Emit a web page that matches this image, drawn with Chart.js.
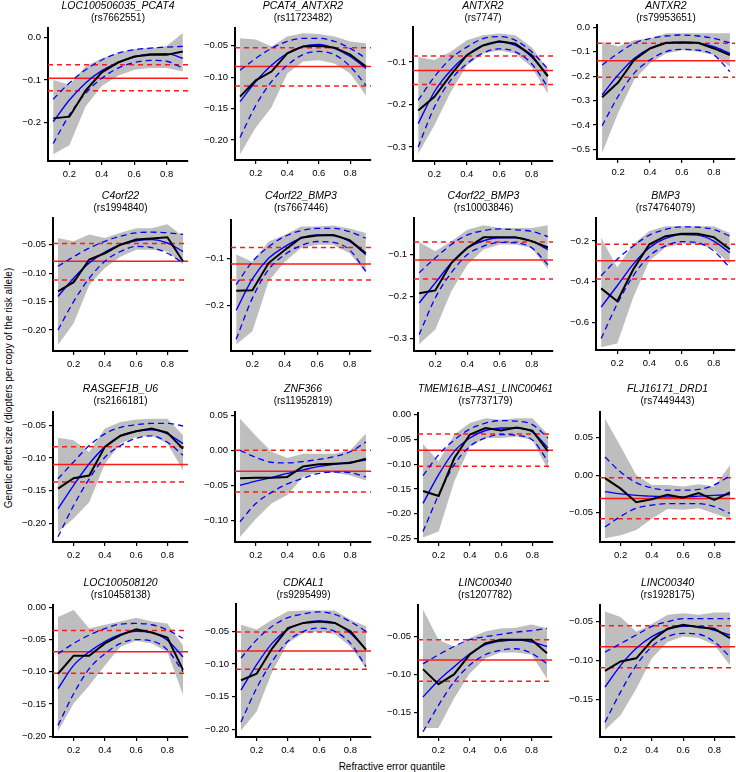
<!DOCTYPE html>
<html>
<head>
<meta charset="utf-8">
<script src="https://cdn.jsdelivr.net/npm/chart.js@4"></script>
<style>
  body { margin: 0; background: #fff; width: 736px; height: 772px; position: relative; overflow: hidden;
         font-family: "Liberation Sans", Arial, sans-serif; }
  canvas { position: absolute; }
  .lab { position: absolute; font-size: 10px; color: #000; white-space: nowrap; }
  #ylab { left: 8px; top: 388px; transform: translate(-50%, -50%) rotate(-90deg); }
  #xlab { left: 392px; top: 766px; transform: translate(-50%, -50%); }
</style>
</head>
<body>
<div class="lab" id="ylab">Genetic effect size (diopters per copy of the risk allele)</div>
<div class="lab" id="xlab">Refractive error quantile</div>
<script>
// data
const quantiles = [0.1, 0.2, 0.3, 0.4, 0.5, 0.6, 0.7, 0.8, 0.9];

const genes = ["LOC100506035_PCAT4", "PCAT4_ANTXR2", "ANTXR2", "ANTXR2",
  "C4orf22", "C4orf22_BMP3", "C4orf22_BMP3", "BMP3",
  "RASGEF1B_U6", "ZNF366", "TMEM161B\u2013AS1_LINC00461", "FLJ16171_DRD1",
  "LOC100508120", "CDKAL1", "LINC00340", "LINC00340"];
const rsids = ["(rs7662551)", "(rs11723482)", "(rs7747)", "(rs79953651)",
  "(rs1994840)", "(rs7667446)", "(rs10003846)", "(rs74764079)",
  "(rs2166181)", "(rs11952819)", "(rs7737179)", "(rs7449443)",
  "(rs10458138)", "(rs9295499)", "(rs1207782)", "(rs1928175)"];

// black line: effect per quantile
const observed = [
  [-0.190, -0.186, -0.125, -0.082, -0.059, -0.045, -0.041, -0.041, -0.033],
  [-0.131, -0.105, -0.091, -0.062, -0.051, -0.050, -0.053, -0.064, -0.083],
  [-0.214, -0.182, -0.131, -0.084, -0.061, -0.051, -0.057, -0.084, -0.134],
  [-0.286, -0.226, -0.133, -0.086, -0.063, -0.063, -0.063, -0.086, -0.113],
  [-0.132, -0.116, -0.076, -0.065, -0.050, -0.041, -0.039, -0.037, -0.079],
  [-0.168, -0.167, -0.109, -0.081, -0.055, -0.050, -0.049, -0.060, -0.088],
  [-0.192, -0.185, -0.120, -0.084, -0.059, -0.059, -0.059, -0.068, -0.083],
  [-0.432, -0.495, -0.338, -0.216, -0.176, -0.164, -0.164, -0.181, -0.240],
  [-0.147, -0.131, -0.127, -0.083, -0.066, -0.059, -0.055, -0.061, -0.086],
  [-0.040, -0.039, -0.039, -0.038, -0.023, -0.020, -0.019, -0.018, -0.012],
  [-0.154, -0.164, -0.088, -0.040, -0.027, -0.032, -0.026, -0.032, -0.074],
  [-0.004, -0.018, -0.036, -0.032, -0.026, -0.030, -0.024, -0.033, -0.023],
  [-0.103, -0.075, -0.075, -0.056, -0.043, -0.034, -0.039, -0.047, -0.097],
  [-0.125, -0.115, -0.076, -0.045, -0.037, -0.035, -0.037, -0.050, -0.078],
  [-0.093, -0.113, -0.100, -0.074, -0.059, -0.054, -0.054, -0.054, -0.072],
  [-0.113, -0.101, -0.097, -0.074, -0.059, -0.054, -0.057, -0.059, -0.071]
];
// grey band
const bandHigh = [
  [-0.100, -0.111, -0.068, -0.049, -0.037, -0.027, -0.025, -0.020, 0.010],
  [-0.038, -0.040, -0.051, -0.035, -0.030, -0.031, -0.035, -0.043, -0.046],
  [-0.088, -0.095, -0.076, -0.049, -0.037, -0.033, -0.037, -0.065, -0.116],
  [-0.059, -0.078, -0.052, -0.045, -0.024, -0.024, -0.024, -0.024, -0.024],
  [-0.038, -0.044, -0.032, -0.038, -0.029, -0.021, -0.021, -0.014, -0.035],
  [-0.091, -0.106, -0.063, -0.049, -0.031, -0.031, -0.029, -0.035, -0.045],
  [-0.070, -0.092, -0.068, -0.041, -0.030, -0.037, -0.037, -0.037, -0.030],
  [-0.184, -0.330, -0.216, -0.151, -0.127, -0.127, -0.127, -0.127, -0.160],
  [-0.069, -0.073, -0.091, -0.055, -0.045, -0.041, -0.040, -0.040, -0.065],
  [0.045, 0.021, -0.002, -0.011, -0.005, -0.005, -0.005, 0.000, 0.024],
  [-0.059, -0.094, -0.040, -0.017, -0.007, -0.010, -0.007, -0.007, -0.040],
  [0.075, 0.038, 0.000, -0.013, -0.013, -0.015, -0.012, -0.015, 0.013],
  [-0.015, -0.004, -0.033, -0.027, -0.022, -0.016, -0.022, -0.025, -0.059],
  [-0.040, -0.047, -0.032, -0.019, -0.018, -0.018, -0.018, -0.032, -0.042],
  [-0.014, -0.054, -0.063, -0.052, -0.043, -0.039, -0.038, -0.034, -0.039],
  [-0.037, -0.044, -0.063, -0.053, -0.041, -0.039, -0.041, -0.038, -0.038]
];
const bandLow = [
  [-0.274, -0.253, -0.162, -0.114, -0.090, -0.076, -0.072, -0.072, -0.080],
  [-0.223, -0.180, -0.148, -0.094, -0.075, -0.073, -0.078, -0.094, -0.129],
  [-0.316, -0.249, -0.171, -0.108, -0.080, -0.073, -0.080, -0.112, -0.175],
  [-0.514, -0.351, -0.215, -0.147, -0.107, -0.093, -0.099, -0.113, -0.161],
  [-0.226, -0.188, -0.121, -0.091, -0.071, -0.059, -0.059, -0.062, -0.085],
  [-0.283, -0.255, -0.148, -0.106, -0.077, -0.070, -0.070, -0.088, -0.130],
  [-0.313, -0.278, -0.187, -0.124, -0.088, -0.076, -0.076, -0.084, -0.135],
  [-0.720, -0.702, -0.475, -0.297, -0.232, -0.213, -0.216, -0.240, -0.313],
  [-0.214, -0.193, -0.168, -0.109, -0.078, -0.068, -0.066, -0.078, -0.119],
  [-0.124, -0.098, -0.076, -0.064, -0.038, -0.031, -0.032, -0.036, -0.043],
  [-0.248, -0.236, -0.135, -0.064, -0.047, -0.047, -0.044, -0.051, -0.111],
  [-0.084, -0.080, -0.073, -0.058, -0.045, -0.046, -0.044, -0.051, -0.058],
  [-0.192, -0.149, -0.121, -0.090, -0.061, -0.052, -0.056, -0.069, -0.136],
  [-0.202, -0.173, -0.112, -0.068, -0.053, -0.050, -0.054, -0.073, -0.107],
  [-0.171, -0.171, -0.132, -0.099, -0.079, -0.071, -0.071, -0.074, -0.106],
  [-0.189, -0.170, -0.136, -0.097, -0.076, -0.069, -0.071, -0.080, -0.106]
];
// blue fitted curve and its dashed limits
const fitMid = [
  [-0.198, -0.147, -0.107, -0.078, -0.059, -0.046, -0.039, -0.038, -0.049],
  [-0.139, -0.107, -0.081, -0.062, -0.051, -0.048, -0.054, -0.067, -0.086],
  [-0.245, -0.170, -0.120, -0.084, -0.061, -0.053, -0.061, -0.088, -0.131],
  [-0.276, -0.195, -0.127, -0.086, -0.065, -0.059, -0.063, -0.079, -0.106],
  [-0.141, -0.109, -0.082, -0.063, -0.050, -0.043, -0.041, -0.047, -0.062],
  [-0.210, -0.143, -0.099, -0.074, -0.056, -0.049, -0.050, -0.063, -0.091],
  [-0.215, -0.167, -0.120, -0.084, -0.067, -0.060, -0.060, -0.068, -0.088],
  [-0.524, -0.419, -0.313, -0.232, -0.187, -0.168, -0.171, -0.200, -0.257],
  [-0.178, -0.142, -0.109, -0.083, -0.066, -0.059, -0.057, -0.063, -0.078],
  [-0.050, -0.044, -0.039, -0.033, -0.028, -0.023, -0.020, -0.017, -0.014],
  [-0.179, -0.121, -0.074, -0.047, -0.032, -0.027, -0.027, -0.035, -0.067],
  [-0.022, -0.025, -0.027, -0.028, -0.029, -0.029, -0.028, -0.027, -0.026],
  [-0.126, -0.090, -0.069, -0.053, -0.042, -0.037, -0.039, -0.051, -0.077],
  [-0.140, -0.101, -0.068, -0.047, -0.037, -0.034, -0.037, -0.053, -0.078],
  [-0.130, -0.108, -0.090, -0.073, -0.061, -0.056, -0.054, -0.057, -0.063],
  [-0.134, -0.106, -0.084, -0.069, -0.060, -0.056, -0.056, -0.061, -0.067]
];
const fitHigh = [
  [-0.145, -0.107, -0.076, -0.053, -0.037, -0.029, -0.025, -0.023, -0.021],
  [-0.089, -0.070, -0.054, -0.043, -0.038, -0.038, -0.043, -0.054, -0.070],
  [-0.190, -0.135, -0.092, -0.065, -0.045, -0.040, -0.049, -0.076, -0.116],
  [-0.154, -0.106, -0.065, -0.045, -0.035, -0.031, -0.035, -0.045, -0.063],
  [-0.088, -0.071, -0.056, -0.044, -0.035, -0.029, -0.028, -0.029, -0.032],
  [-0.155, -0.106, -0.074, -0.052, -0.040, -0.035, -0.035, -0.042, -0.056],
  [-0.143, -0.108, -0.076, -0.053, -0.043, -0.039, -0.041, -0.045, -0.057],
  [-0.370, -0.289, -0.224, -0.171, -0.143, -0.130, -0.132, -0.143, -0.176],
  [-0.132, -0.106, -0.081, -0.063, -0.053, -0.049, -0.047, -0.047, -0.051],
  [0.000, -0.010, -0.017, -0.018, -0.016, -0.013, -0.009, -0.002, 0.012],
  [-0.123, -0.081, -0.051, -0.029, -0.017, -0.012, -0.013, -0.020, -0.047],
  [0.024, 0.004, -0.010, -0.017, -0.020, -0.020, -0.019, -0.013, -0.001],
  [-0.072, -0.056, -0.043, -0.033, -0.026, -0.025, -0.027, -0.035, -0.048],
  [-0.091, -0.063, -0.042, -0.029, -0.023, -0.020, -0.024, -0.035, -0.050],
  [-0.086, -0.074, -0.063, -0.054, -0.050, -0.047, -0.044, -0.042, -0.039],
  [-0.089, -0.078, -0.067, -0.056, -0.050, -0.046, -0.046, -0.046, -0.046]
];
const fitLow = [
  [-0.249, -0.182, -0.131, -0.096, -0.072, -0.059, -0.054, -0.056, -0.072],
  [-0.196, -0.145, -0.107, -0.081, -0.064, -0.059, -0.064, -0.083, -0.113],
  [-0.300, -0.206, -0.143, -0.104, -0.079, -0.069, -0.076, -0.104, -0.159],
  [-0.403, -0.283, -0.188, -0.133, -0.099, -0.090, -0.093, -0.113, -0.181],
  [-0.200, -0.150, -0.109, -0.079, -0.062, -0.053, -0.055, -0.065, -0.082],
  [-0.272, -0.184, -0.123, -0.091, -0.072, -0.063, -0.065, -0.081, -0.127],
  [-0.290, -0.203, -0.143, -0.100, -0.080, -0.071, -0.072, -0.084, -0.124],
  [-0.678, -0.508, -0.370, -0.273, -0.224, -0.203, -0.208, -0.249, -0.330],
  [-0.221, -0.173, -0.132, -0.099, -0.081, -0.070, -0.066, -0.076, -0.096],
  [-0.102, -0.076, -0.060, -0.048, -0.040, -0.033, -0.031, -0.032, -0.038],
  [-0.236, -0.162, -0.101, -0.064, -0.047, -0.040, -0.042, -0.051, -0.094],
  [-0.069, -0.055, -0.044, -0.040, -0.038, -0.038, -0.038, -0.042, -0.051],
  [-0.183, -0.134, -0.095, -0.072, -0.056, -0.050, -0.052, -0.066, -0.100],
  [-0.189, -0.137, -0.096, -0.065, -0.050, -0.045, -0.050, -0.068, -0.104],
  [-0.176, -0.141, -0.110, -0.088, -0.074, -0.068, -0.066, -0.072, -0.086],
  [-0.179, -0.140, -0.106, -0.082, -0.069, -0.065, -0.066, -0.076, -0.095]
];
// red lines: overall effect and its limits
const meanEffect = [-0.096, -0.083, -0.120, -0.136, -0.079, -0.111, -0.113, -0.297,
  -0.110, -0.030, -0.072, -0.031, -0.069, -0.080, -0.081, -0.082];
const meanHigh = [-0.064, -0.053, -0.086, -0.065, -0.048, -0.076, -0.070, -0.216,
  -0.083, 0.000, -0.039, -0.0035, -0.036, -0.051, -0.054, -0.055];
const meanLow = [-0.125, -0.114, -0.153, -0.204, -0.112, -0.145, -0.158, -0.386,
  -0.137, -0.0595, -0.104, -0.058, -0.102, -0.108, -0.109, -0.109];

// axes
const xTicks = [0.2, 0.4, 0.6, 0.8];
const X_MIN = 0.068, X_MAX = 0.932;
const yTickLabels = [
  ["0.0", "\u22120.1", "\u22120.2"],
  ["\u22120.05", "\u22120.10", "\u22120.15", "\u22120.20"],
  ["\u22120.1", "\u22120.2", "\u22120.3"],
  ["0.0", "\u22120.1", "\u22120.2", "\u22120.3", "\u22120.4", "\u22120.5"],
  ["\u22120.05", "\u22120.10", "\u22120.15", "\u22120.20"],
  ["\u22120.1", "\u22120.2"],
  ["\u22120.1", "\u22120.2", "\u22120.3"],
  ["\u22120.2", "\u22120.4", "\u22120.6"],
  ["\u22120.05", "\u22120.10", "\u22120.15", "\u22120.20"],
  ["0.05", "0.00", "\u22120.05", "\u22120.10"],
  ["0.00", "\u22120.05", "\u22120.10", "\u22120.15", "\u22120.20", "\u22120.25"],
  ["0.05", "0.00", "\u22120.05"],
  ["0.00", "\u22120.05", "\u22120.10", "\u22120.15", "\u22120.20"],
  ["\u22120.05", "\u22120.10", "\u22120.15", "\u22120.20"],
  ["\u22120.05", "\u22120.10", "\u22120.15"],
  ["\u22120.05", "\u22120.10", "\u22120.15"]
];
const yMin = [-0.290, -0.232, -0.333, -0.539, -0.237, -0.297, -0.329, -0.734,
  -0.229, -0.131, -0.257, -0.089, -0.201, -0.212, -0.183, -0.198];
const yMax = [0.022, -0.0216, -0.0176, 0.010, -0.003, -0.017, -0.013, -0.087,
  -0.0295, 0.0548, 0.0034, 0.084, 0.0036, -0.008, -0.008, -0.0285];

// plot areas on the page: left, top, right, bottom
const boxes = [
  [48, 28, 188, 161], [235, 28, 371, 160], [413, 27, 553, 161], [597, 25, 735, 159],
  [53, 218, 188, 351], [231, 220, 371, 351], [414, 218, 553, 351], [596, 218, 735, 350],
  [53, 412, 188, 542], [235, 412, 371, 542], [418, 413, 553, 542], [600, 412, 735, 542],
  [53, 605, 188, 737], [236, 604, 371, 737], [418, 605, 552, 737], [600, 605, 735, 737]
];
// top of the two title lines for each row of panels
const rowTop = [0, 190, 383, 577];
const AXIS_W = 45, LINE_H = 12, XAXIS_H = 20, PAD_R = 4;

Chart.defaults.font.family = '"Liberation Sans", Arial, sans-serif';
Chart.defaults.color = "#000";

const pts = arr => quantiles.map((q, k) => ({ x: q, y: arr[k] }));
const across = v => [{ x: X_MIN, y: v }, { x: X_MAX, y: v }];
const minus = s => parseFloat(s.replace("\u2212", "-"));

genes.forEach((gene, i) => {
  const [L, T, R, B] = boxes[i];
  const top = rowTop[Math.floor(i / 4)];
  const gap = T - top - 2 * LINE_H;
  const cv = document.createElement("canvas");
  cv.width = AXIS_W + (R - L) + PAD_R;
  cv.height = (B - top) + XAXIS_H;
  cv.style.left = (L - AXIS_W) + "px";
  cv.style.top = top + "px";
  document.body.appendChild(cv);

  const yVals = yTickLabels[i].map(minus);
  const line = (data, color, width, dash, order, extra) => Object.assign({
    data, borderColor: color, borderWidth: width, borderDash: dash,
    pointRadius: 0, fill: false, order, tension: 0
  }, extra || {});
  const smooth = { cubicInterpolationMode: "monotone" };

  new Chart(cv, {
    type: "line",
    data: {
      datasets: [
        line(pts(bandHigh[i]), "rgba(0,0,0,0)", 0, [], 5, { fill: "+1", backgroundColor: "#bebebe" }),
        line(pts(bandLow[i]), "rgba(0,0,0,0)", 0, [], 5),
        line(across(meanEffect[i]), "#ff1a1a", 1.5, [], 4),
        line(across(meanHigh[i]), "#ff1a1a", 1.5, [5, 4], 4),
        line(across(meanLow[i]), "#ff1a1a", 1.5, [5, 4], 4),
        line(pts(fitHigh[i]), "#0000ff", 1.3, [6, 4], 3, smooth),
        line(pts(fitLow[i]), "#0000ff", 1.3, [6, 4], 3, smooth),
        line(pts(fitMid[i]), "#0000ff", 1.4, [], 2, smooth),
        line(pts(observed[i]), "#000000", 2, [], 1)
      ]
    },
    options: {
      responsive: false,
      animation: false,
      devicePixelRatio: 1,
      events: [],
      layout: { padding: { left: 0, right: PAD_R, top: 0, bottom: 0 } },
      plugins: {
        legend: { display: false },
        tooltip: { enabled: false },
        title: {
          display: true, text: gene, fullSize: false,
          font: { size: 10.5, style: "italic", weight: "normal", lineHeight: LINE_H + "px" },
          padding: { top: 0, bottom: 0 }
        },
        subtitle: {
          display: true, text: rsids[i], fullSize: false,
          font: { size: 10, lineHeight: LINE_H + "px" },
          padding: { top: 0, bottom: gap }
        }
      },
      scales: {
        x: {
          type: "linear", min: X_MIN, max: X_MAX,
          afterBuildTicks: s => { s.ticks = xTicks.map(v => ({ value: v })); },
          afterFit: s => { s.height = XAXIS_H; },
          ticks: { font: { size: 9.5 }, padding: 4, maxRotation: 0, autoSkip: false,
                   callback: v => v.toFixed(1) },
          grid: { drawOnChartArea: false, drawTicks: true, tickLength: 4, color: "#000", lineWidth: 1.2 },
          border: { display: true, color: "#000", width: 2 }
        },
        y: {
          type: "linear", min: yMin[i], max: yMax[i],
          afterBuildTicks: s => { s.ticks = yVals.map(v => ({ value: v })); },
          afterFit: s => { s.width = AXIS_W; },
          ticks: { font: { size: 9.5 }, padding: 3, autoSkip: false,
                   callback: (v, k) => yTickLabels[i][k] },
          grid: { drawOnChartArea: false, drawTicks: true, tickLength: 4, color: "#000", lineWidth: 1.2 },
          border: { display: true, color: "#000", width: 2 }
        }
      }
    }
  });
});
</script>
</body>
</html>
